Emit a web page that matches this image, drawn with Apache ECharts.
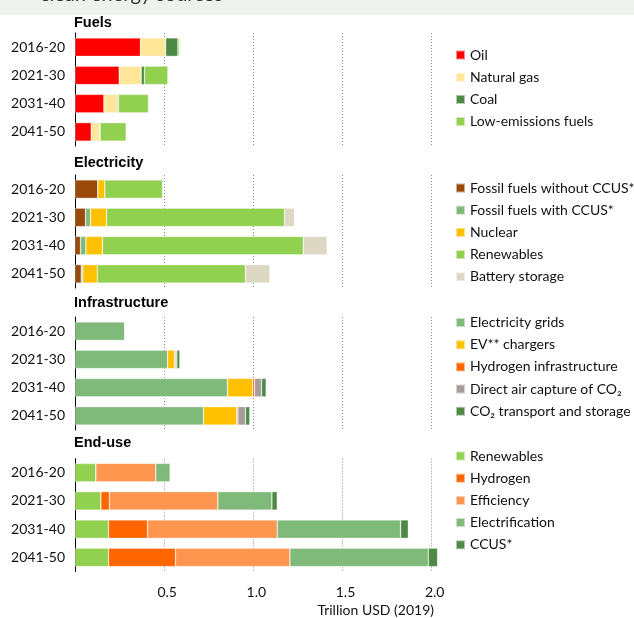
<!DOCTYPE html>
<html>
<head>
<meta charset="utf-8">
<script src="https://cdn.jsdelivr.net/npm/echarts@6/dist/echarts.min.js"></script>
<style>
html,body{margin:0;padding:0;background:#fff;}
#chart{width:634px;height:618px;}
</style>
</head>
<body>
<div id="chart"></div>
<script>
const categories = ['2016-20', '2021-30', '2031-40', '2041-50'];
const panelTitles = ['Fuels', 'Electricity', 'Infrastructure', 'End-use'];
const xTickLabels = ['0.5', '1.0', '1.5', '2.0'];
const axisName = 'Trillion USD (2019)';

// Fuels
const oil = [0.367, 0.248, 0.162, 0.091];
const naturalGas = [0.141, 0.123, 0.076, 0.046];
const coal = [0.069, 0.019, 0.006, 0.004];
const lowEmissionsFuels = [0.009, 0.131, 0.168, 0.146];

// Electricity
const fossilNoCcus = [0.128, 0.059, 0.031, 0.035];
const fossilCcus = [0.000, 0.028, 0.030, 0.009];
const nuclear = [0.039, 0.090, 0.093, 0.081];
const elecRenewables = [0.324, 0.998, 1.126, 0.831];
const batteryStorage = [0.002, 0.056, 0.134, 0.137];

// Infrastructure
const electricityGrids = [0.279, 0.519, 0.855, 0.721];
const evChargers = [0.003, 0.039, 0.141, 0.185];
const hydrogenInfra = [0.000, 0.004, 0.011, 0.007];
const directAirCapture = [0.000, 0.009, 0.039, 0.043];
const co2Transport = [0.000, 0.017, 0.026, 0.024];

// End-use
const endRenewables = [0.117, 0.145, 0.188, 0.188];
const hydrogen = [0.000, 0.048, 0.219, 0.376];
const efficiency = [0.336, 0.608, 0.727, 0.641];
const electrification = [0.081, 0.303, 0.692, 0.776];
const endCcus = [0.000, 0.030, 0.043, 0.052];

const panels = [
  [
    ['Oil', oil, '#ff0000'],
    ['Natural gas', naturalGas, '#ffe699'],
    ['Coal', coal, '#4e8a46'],
    ['Low-emissions fuels', lowEmissionsFuels, '#92d050']
  ],
  [
    ['Fossil fuels without CCUS*', fossilNoCcus, '#9a4a0a'],
    ['Fossil fuels with CCUS*', fossilCcus, '#80ba7a'],
    ['Nuclear', nuclear, '#ffc000'],
    ['Renewables', elecRenewables, '#92d050'],
    ['Battery storage', batteryStorage, '#ddd8c4']
  ],
  [
    ['Electricity grids', electricityGrids, '#80ba7a'],
    ['EV** chargers', evChargers, '#ffc000'],
    ['Hydrogen infrastructure', hydrogenInfra, '#ff6600'],
    ['Direct air capture of CO\u2082', directAirCapture, '#a69c9a'],
    ['CO\u2082 transport and storage', co2Transport, '#4e8a46']
  ],
  [
    ['Renewables', endRenewables, '#92d050'],
    ['Hydrogen', hydrogen, '#ff6600'],
    ['Efficiency', efficiency, '#ff9650'],
    ['Electrification', electrification, '#80ba7a'],
    ['CCUS*', endCcus, '#4e8a46']
  ]
];

const gridTops = [33, 175, 317, 458.5];
const titleCenters = [22.5, 162.5, 302.5, 442.5];
const legendTops = [48, 181, 315.5, 449];
const FONT = 'Lato, "Open Sans", sans-serif';

const grids = [], xAxes = [], yAxes = [], series = [], titles = [], legends = [];
panels.forEach((panel, p) => {
  grids.push({ left: 75, top: gridTops[p], width: 365.6, height: 113, containLabel: false });
  xAxes.push({
    type: 'value', gridIndex: p, min: 0, max: 2.05, interval: 0.5,
    axisLine: { show: false }, axisTick: { show: false },
    axisLabel: {
      show: p === 3, showMinLabel: false, showMaxLabel: false, margin: 14,
      color: '#111', fontSize: 14, fontFamily: FONT, padding: [0, 0, 0, 6],
      formatter: v => { const i = Math.round(v / 0.5) - 1; return xTickLabels[i] || ''; }
    },
    splitLine: { show: true, showMinLine: false, showMaxLine: false, lineStyle: { type: [1, 2], color: '#8a8a8a', width: 1 } }
  });
  yAxes.push({
    type: 'category', gridIndex: p, data: categories, inverse: true,
    axisLine: { show: true, lineStyle: { color: '#000', width: 1 } },
    axisTick: { show: false },
    axisLabel: { margin: 10, color: '#111', fontSize: 14, fontFamily: FONT }
  });
  panel.forEach(([name, values, color]) => {
    series.push({
      name, type: 'bar', xAxisIndex: p, yAxisIndex: p, stack: 'panel' + p,
      data: values, barWidth: 18.5,
      itemStyle: { color, borderColor: 'rgba(255,255,255,0.55)', borderWidth: 0.6 },
      emphasis: { disabled: true }, animation: false
    });
  });
  titles.push({
    text: panelTitles[p], left: 74, top: titleCenters[p] - 8, padding: 0,
    textStyle: { fontSize: 14.5, fontWeight: 'bold', fontFamily: '"Liberation Sans", Arial, sans-serif', color: '#000', lineHeight: 16 }
  });
  legends.push({
    orient: 'vertical', left: 455, top: legendTops[p], padding: 0,
    itemWidth: 9, itemHeight: 9, itemGap: 8.2, icon: 'rect', selectedMode: false,
    data: panel.map(s => s[0]),
    textStyle: { fontSize: 14, fontFamily: FONT, color: '#111', lineHeight: 14, padding: [0, 0, 0, 0] }
  });
});

const chart = echarts.init(document.getElementById('chart'), null, { renderer: 'canvas' });
chart.setOption({
  backgroundColor: '#fff',
  animation: false,
  title: titles,
  legend: legends,
  grid: grids,
  xAxis: xAxes,
  yAxis: yAxes,
  series: series,
  graphic: [
    { type: 'rect', shape: { x: 0, y: 0, width: 634, height: 15 }, style: { fill: '#edf3ec' }, z: -1 },
    { type: 'text', left: 40, top: -15, style: { text: 'clean energy sources', font: '20px ' + FONT, fill: '#333' } },
    { type: 'text', right: 200, top: 603, style: { text: axisName, font: '14px ' + FONT, fill: '#111' } }
  ]
});
</script>
</body>
</html>
